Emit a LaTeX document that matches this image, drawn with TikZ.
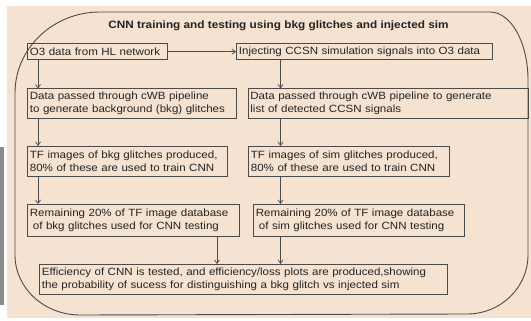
\documentclass[tikz,border=0pt]{standalone}
\usepackage{fontspec}
\setmainfont{Liberation Sans}[FakeStretch=1.1]
\usetikzlibrary{arrows.meta}
\definecolor{bg}{RGB}{245,226,208}
\definecolor{ln}{RGB}{75,75,75}
\definecolor{tx}{RGB}{35,35,35}
\definecolor{barc}{RGB}{140,140,140}
\begin{document}
\begin{tikzpicture}[x=1pt,y=-1pt,
  box/.style={draw=ln, line width=0.8pt, rectangle, inner xsep=2.5pt, inner ysep=0pt,
    align=left, text=tx, font=\fontsize{10.5}{13}\selectfont, anchor=north west},
  arr/.style={draw=ln, line width=0.7pt, -{Straight Barb[length=3.5pt,width=5pt]}},
  border/.style={draw=ln, line width=0.9pt}]
\useasboundingbox (0,0) rectangle (531,321);
\fill[bg] (7,6) rectangle (531,318);
\fill[barc] (0,147) rectangle (4,305);
% outer rounded frame
\draw[border] (100,12) -- (490,12)
  .. controls (511,12) and (528,42.5) .. (528,80)
  -- (528,255)
  .. controls (528,287.6) and (500.7,314) .. (467,314)
  -- (80,315)
  .. controls (44.1,315) and (15,288) .. (15,255)
  -- (15,93)
  .. controls (15,48.3) and (53.1,12) .. (100,12) -- cycle;
\node[font=\bfseries\fontsize{10.7}{12}\selectfont, text=tx] (title) at (278.5,26)
  {CNN training and testing using bkg glitches and injected sim};
\node[box, text width=135pt, minimum height=16.5pt] (b1) at (27,43) {\mbox{O3 data from HL network}};
\node[box, text width=251pt, minimum height=16.5pt] (b2) at (236,43) {\mbox{Injecting CCSN simulation signals into O3 data}};
\node[box, text width=203.5pt, minimum height=29.5pt] (b3) at (27,88.5) {\mbox{Data passed through cWB pipeline}\\\mbox{to generate background (bkg) glitches}};
\node[box, text width=275.5pt, minimum height=29.5pt] (b4) at (247.5,88.5) {\mbox{Data passed through cWB pipeline to generate}\\\mbox{list of detected CCSN signals}};
\node[box, text width=195pt, minimum height=30.5pt] (b5) at (27,146) {\mbox{TF images of bkg glitches produced,}\\\mbox{80\% of these are used to train CNN}};
\node[box, text width=196pt, minimum height=30.5pt] (b6) at (248,146) {\mbox{TF images of sim glitches produced,}\\\mbox{80\% of these are used to train CNN}};
\node[box, text width=207pt, minimum height=31.5pt] (b7) at (27,204) {\mbox{Remaining 20\% of TF image database}\\\mbox{\hspace*{3pt}of bkg glitches used for CNN testing}};
\node[box, text width=206pt, minimum height=31.5pt] (b8) at (253,204) {\mbox{Remaining 20\% of TF image database}\\\mbox{\hspace*{3pt}of sim glitches used for CNN testing}};
\node[box, text width=403pt, minimum height=29.5pt] (b9) at (39,264) {\mbox{Efficiency of CNN is tested, and efficiency/loss plots are produced,showing}\\\mbox{the probability of sucess for distinguishing a bkg glitch vs injected sim}};
% connectors
\draw[arr] (b1.east) -- (b2.west);
\draw[arr] ([xshift=11pt]b1.south west) -- ([xshift=11pt]b1.south west |- b3.north);
\draw[arr] ([xshift=11pt]b3.south west) -- ([xshift=11pt]b3.south west |- b5.north);
\draw[arr] ([xshift=11pt]b5.south west) -- ([xshift=11pt]b5.south west |- b7.north);
\draw[arr] ([xshift=190pt]b7.south west) -- ([xshift=190pt]b7.south west |- b9.north);
\draw[arr] ([xshift=44.5pt]b2.south west) -- ([xshift=44.5pt]b2.south west |- b4.north);
\draw[arr] ([xshift=33pt]b4.south west) -- ([xshift=33pt]b4.south west |- b6.north);
\draw[arr] ([xshift=32.5pt]b6.south west) -- ([xshift=32.5pt]b6.south west |- b8.north);
\draw[arr] ([xshift=27.5pt]b8.south west) -- ([xshift=27.5pt]b8.south west |- b9.north);
\end{tikzpicture}
\end{document}
